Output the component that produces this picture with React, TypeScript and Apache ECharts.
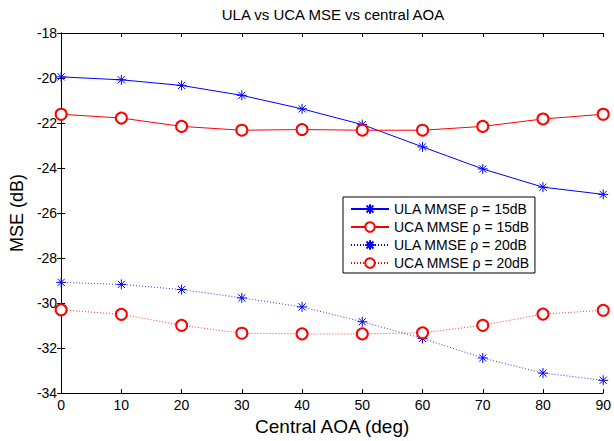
import React, { useEffect, useRef } from "react";
import * as echarts from "echarts";

const angles = [0, 10, 20, 30, 40, 50, 60, 70, 80, 90];
const ula15 = [-19.95, -20.08, -20.33, -20.77, -21.37, -22.07, -23.06, -24.04, -24.85, -25.17];
const uca15 = [-21.61, -21.78, -22.15, -22.32, -22.29, -22.32, -22.32, -22.15, -21.82, -21.61];
const ula20 = [-29.08, -29.17, -29.4, -29.77, -30.17, -30.83, -31.57, -32.44, -33.11, -33.43];
const uca20 = [-30.3, -30.5, -30.99, -31.34, -31.37, -31.37, -31.32, -30.99, -30.49, -30.32];
const seriesNames = ["ULA MMSE ρ = 15dB", "UCA MMSE ρ = 15dB", "ULA MMSE ρ = 20dB", "UCA MMSE ρ = 20dB"];

const FONT = "'Liberation Sans', Arial, sans-serif";
const STAR = "path://M0,-5L0,5M-5,0L5,0M-3.6,-3.6L3.6,3.6M-3.6,3.6L3.6,-3.6";

export default function App() {
  const ref = useRef<HTMLDivElement>(null);
  useEffect(() => {
    if (!ref.current) return;
    const chart = echarts.init(ref.current, undefined, { renderer: "svg" });
    const pair = (ys: number[]) => angles.map((a, i) => [a, ys[i]]);
    const axisBase = {
      type: "value" as const,
      axisLine: { show: true, lineStyle: { color: "#000", width: 1 } },
      axisTick: { show: true, inside: true, length: 4, lineStyle: { color: "#000" } },
      splitLine: { show: false },
    };
    const mk = (name: string, ys: number[], color: string, star: boolean, dotted: boolean) => ({
      name,
      type: "line",
      data: pair(ys),
      symbol: star ? STAR : "emptyCircle",
      symbolSize: star ? 10 : 11,
      showSymbol: true,
      lineStyle: { color, width: dotted ? 0.8 : 1, type: dotted ? [1, 2] : "solid" },
      itemStyle: { color, borderColor: color, borderWidth: star ? 1 : 0.9 },
      emphasis: { disabled: true },
    });
    chart.setOption({
      animation: false,
      backgroundColor: "#fff",
      title: {
        text: "ULA vs UCA MSE vs central AOA",
        left: 333,
        textAlign: "center",
        top: 7,
        padding: 0,
        textStyle: { fontSize: 15, fontWeight: "normal", color: "#000", fontFamily: FONT },
      },
      grid: { left: 61, right: 9, top: 33, bottom: 46, containLabel: false },
      legend: {
        data: seriesNames,
        orient: "vertical",
        left: 343,
        top: 197,
        itemWidth: 38,
        itemHeight: 12,
        itemGap: 4,
        padding: [5, 5, 3, 7],
        borderColor: "#000",
        borderWidth: 1,
        backgroundColor: "#fff",
        textStyle: { fontSize: 14, color: "#000", fontFamily: FONT },
      },
      xAxis: [
        {
          ...axisBase,
          min: 0,
          max: 90,
          interval: 10,
          position: "bottom",
          axisLabel: { fontSize: 14, color: "#000", fontFamily: FONT, margin: 5 },
          name: "Central AOA (deg)",
          nameLocation: "middle",
          nameGap: 22,
          nameTextStyle: { fontSize: 19, color: "#000", fontFamily: FONT },
        },
        {
          ...axisBase,
          min: 0,
          max: 90,
          interval: 10,
          position: "top",
          axisLabel: { show: false },
        },
      ],
      yAxis: [
        {
          ...axisBase,
          min: -34,
          max: -18,
          interval: 2,
          position: "left",
          axisLabel: { fontSize: 14, color: "#000", fontFamily: FONT, margin: 4 },
          name: "MSE (dB)",
          nameLocation: "middle",
          nameGap: 34,
          nameTextStyle: { fontSize: 18, color: "#000", fontFamily: FONT },
        },
        {
          ...axisBase,
          min: -34,
          max: -18,
          interval: 2,
          position: "right",
          axisLabel: { show: false },
        },
      ],
      series: [
        mk(seriesNames[0], ula15, "#0000ff", true, false),
        mk(seriesNames[1], uca15, "#ff0000", false, false),
        mk(seriesNames[2], ula20, "#0000ff", true, true),
        mk(seriesNames[3], uca20, "#ff0000", false, true),
      ],
    });
    return () => chart.dispose();
  }, []);
  return (
    <div
      ref={ref}
      style={{ position: "fixed", left: 0, top: 0, width: 614, height: 441, background: "#fff" }}
    />
  );
}
